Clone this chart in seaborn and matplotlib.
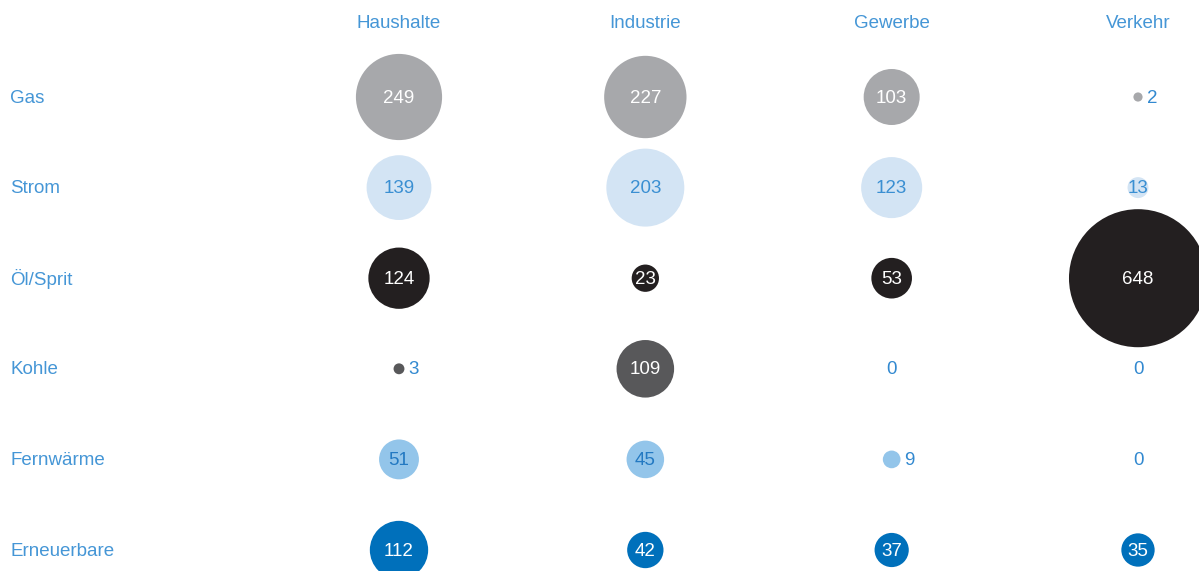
import matplotlib
matplotlib.use("Agg")
import matplotlib.pyplot as plt
import matplotlib.transforms as mtransforms
import seaborn as sns
import pandas as pd
import numpy as np

sectors = ["Haushalte", "Industrie", "Gewerbe", "Verkehr"]
energies = ["Gas", "Strom", "Öl/Sprit", "Kohle", "Fernwärme", "Erneuerbare"]
gas = [249, 227, 103, 2]
strom = [139, 203, 123, 13]
oel = [124, 23, 53, 648]
kohle = [3, 109, 0, 0]
fernwaerme = [51, 45, 9, 0]
erneuerbare = [112, 42, 37, 35]

bubble_colors = ["#a7a8ab", "#d3e4f4", "#231f20", "#58585a", "#93c5ea", "#0070bb"]
inside_text = ["white", "#3a8fd2", "white", "white", "#2379c2", "white"]
label_blue = "#4596d6"
num_blue = "#3289d0"

sns.set_theme(style="white")
plt.rcParams["font.family"] = ["Liberation Sans", "DejaVu Sans"]

rows = []
for e, vals in zip(energies, [gas, strom, oel, kohle, fernwaerme, erneuerbare]):
    for s, v in zip(sectors, vals):
        rows.append({"energy": e, "sector": s, "value": v})
df = pd.DataFrame(rows)

W, H = 1199, 571
fig = plt.figure(figsize=(W / 100, H / 100), dpi=100)
ax = fig.add_axes([0, 0, 1, 1])

def radius_px(v):
    return 2.68 * np.sqrt(v) + 0.8

plot_df = df[df["value"] > 0]
sizes = {v: (2 * radius_px(v) * 0.72) ** 2 for v in plot_df["value"].unique()}
sns.scatterplot(data=plot_df, x="sector", y="energy", hue="energy", size="value",
                sizes=sizes, palette=dict(zip(energies, bubble_colors)),
                hue_order=energies, linewidth=0, legend=False, ax=ax, clip_on=False)

x0, x3 = 399, 1138
dx = (x3 - x0) / 3
y0, y5 = 97, 550
dy = (y5 - y0) / 5
ax.set_xlim(-x0 / dx, (W - x0) / dx)
ax.set_ylim((H - y0) / dy, -y0 / dy)
ax.set_axis_off()

fs = 13.5
tshift = 1.2 / dy
for i, e in enumerate(energies):
    for j, s in enumerate(sectors):
        v = df[(df.energy == e) & (df.sector == s)]["value"].iloc[0]
        if v == 0:
            ax.text(j, i + tshift, str(v), ha="center", va="center", color=num_blue, fontsize=fs)
        elif v < 10:
            off = (radius_px(v) + 4) / dx
            ax.text(j + off, i + tshift, str(v), ha="left", va="center", color=num_blue, fontsize=fs)
        else:
            ax.text(j, i + tshift, str(v), ha="center", va="center", color=inside_text[i], fontsize=fs)

trans_rows = mtransforms.blended_transform_factory(fig.transFigure, ax.transData)
for i, e in enumerate(energies):
    ax.text(10 / W, i + tshift, e, transform=trans_rows, ha="left", va="center",
            color=label_blue, fontsize=fs)

trans_cols = mtransforms.blended_transform_factory(ax.transData, fig.transFigure)
for j, s in enumerate(sectors):
    ax.text(j, 1 - 24 / H, s, transform=trans_cols, ha="center", va="center",
            color=label_blue, fontsize=fs)

fig.savefig("out.png", dpi=100)
